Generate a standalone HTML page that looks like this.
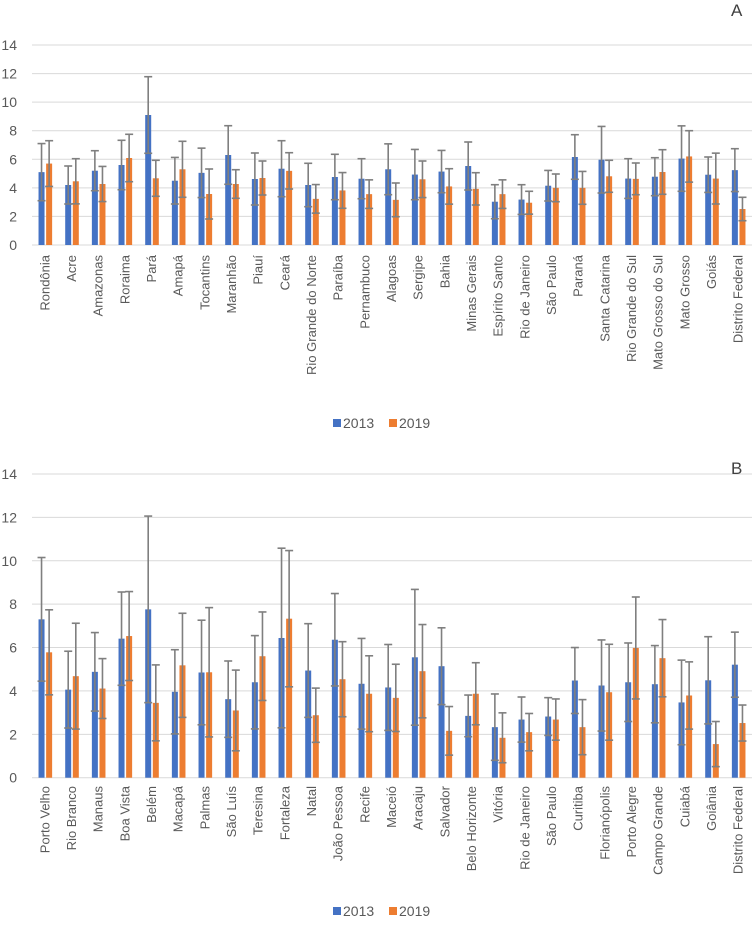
<!DOCTYPE html>
<html><head><meta charset="utf-8"><style>
body{margin:0;background:#fff;}
svg{display:block;font-family:"Liberation Sans",sans-serif;}
</style></head><body>
<svg id="chart" width="754" height="927" viewBox="0 0 754 927"></svg>
<script>
const statesA = ["Rondônia","Acre","Amazonas","Roraima","Pará","Amapá","Tocantins","Maranhão","Piauí","Ceará","Rio Grande do Norte","Paraíba","Pernambuco","Alagoas","Sergipe","Bahia","Minas Gerais","Espírito Santo","Rio de Janeiro","São Paulo","Paraná","Santa Catarina","Rio Grande do Sul","Mato Grosso do Sul","Mato Grosso","Goiás","Distrito Federal"];
const a2013 = [5.1,4.2,5.2,5.6,9.1,4.5,5.05,6.3,4.62,5.34,4.2,4.76,4.64,5.3,4.93,5.14,5.53,3.03,3.18,4.15,6.16,5.97,4.65,4.78,6.05,4.92,5.24];
const a2013err = [2.0,1.33,1.4,1.73,2.68,1.63,1.73,2.05,1.82,1.96,1.52,1.59,1.4,1.78,1.76,1.48,1.68,1.19,1.04,1.07,1.56,2.33,1.39,1.33,2.29,1.24,1.5];
const a2019 = [5.7,4.46,4.27,6.09,4.67,5.3,3.57,4.27,4.69,5.19,3.23,3.82,3.56,3.16,4.6,4.1,3.93,3.56,2.96,4.0,4.0,4.81,4.63,5.11,6.2,4.65,2.52];
const a2019err = [1.6,1.58,1.23,1.66,1.26,1.96,1.75,1.0,1.19,1.27,1.0,1.25,1.0,1.18,1.28,1.24,1.13,1.0,0.8,0.97,1.15,1.12,1.11,1.56,1.8,1.78,0.82];
const citiesB = ["Porto Velho","Rio Branco","Manaus","Boa Vista","Belém","Macapá","Palmas","São Luís","Teresina","Fortaleza","Natal","João Pessoa","Recife","Maceió","Aracaju","Salvador","Belo Horizonte","Vitória","Rio de Janeiro","São Paulo","Curitiba","Florianópolis","Porto Alegre","Campo Grande","Cuiabá","Goiânia","Distrito Federal"];
const b2013 = [7.3,4.06,4.88,6.41,7.76,3.96,4.85,3.62,4.4,6.44,4.94,6.36,4.33,4.16,5.55,5.14,2.85,2.33,2.68,2.82,4.48,4.25,4.4,4.31,3.47,4.49,5.21];
const b2013err = [2.85,1.77,1.81,2.15,4.3,1.94,2.41,1.76,2.15,4.14,2.16,2.13,2.09,1.98,3.13,1.77,0.96,1.53,1.04,0.87,1.52,2.1,1.81,1.78,1.95,2.01,1.5];
const b2019 = [5.78,4.68,4.11,6.53,3.45,5.18,4.86,3.1,5.6,7.33,2.88,4.54,3.87,3.68,4.91,2.16,3.87,1.84,2.1,2.68,2.33,3.94,5.98,5.51,3.79,1.55,2.52];
const b2019err = [1.96,2.44,1.38,2.05,1.75,2.4,2.98,1.86,2.04,3.14,1.25,1.73,1.75,1.55,2.15,1.12,1.43,1.15,0.86,0.95,1.27,2.21,2.35,1.78,1.55,1.04,0.83];
const yTicks = [0,2,4,6,8,10,12,14];
const seriesNames = ["2013","2019"];

const NS="http://www.w3.org/2000/svg";
const svg=document.getElementById('chart');
function mk(tag,attrs,parent){const e=document.createElementNS(NS,tag);for(const k in attrs)e.setAttribute(k,attrs[k]);(parent||svg).appendChild(e);return e;}

function drawChart(cfg){
  const g=mk('g',{});
  
  
  const x0=32,x1=752,pitch=(x1-x0)/cfg.cats.length;
  const yScale=v=>cfg.zeroY-v*cfg.unit;
  const xScale=i=>x0+pitch*(i+0.5);
  yTicks.forEach(t=>{
    const l=mk('line',{x1:x0,x2:x1,y1:yScale(t),y2:yScale(t),stroke:'#d9d9d9','stroke-width':1},g);
    
    
    const tx=mk('text',{x:17,y:yScale(t)+5,'text-anchor':'end','font-size':14,fill:'#595959'},g);
    tx.textContent=t;
    
    
  });
  const series=[{v:cfg.s1,e:cfg.e1,c:'#4472c4',off:-3.8},{v:cfg.s2,e:cfg.e2,c:'#ed7d31',off:3.8}];
  cfg.cats.forEach((name,i)=>{
    series.forEach((s,si)=>{
      const cx=xScale(i)+s.off,val=s.v[i],er=s.e[i];
      const r=mk('rect',{x:cx-3,y:yScale(val),width:6,height:cfg.zeroY-yScale(val),fill:s.c},g);
      
      
      const lo=Math.max(0,val-er),hi=val+er;
      const eg=mk('g',{stroke:'#7f7f7f','stroke-width':1.6},g);
      
      
      mk('line',{x1:cx,x2:cx,y1:yScale(lo),y2:yScale(hi)},eg);
      mk('line',{x1:cx-4,x2:cx+4,y1:yScale(hi),y2:yScale(hi)},eg);
      mk('line',{x1:cx-4,x2:cx+4,y1:yScale(lo),y2:yScale(lo)},eg);
    });
    const lx=xScale(i)+4,ly=cfg.labelY;
    const t=mk('text',{x:lx,y:ly,transform:`rotate(-90 ${lx} ${ly})`,'text-anchor':'end','font-size':13,fill:'#595959'},g);
    t.textContent=name;
    
    
  });
  const lg=mk('g',{},g);
  
  
  [['#4472c4',333,343],['#ed7d31',389,399]].forEach((d,k)=>{
    const sq=mk('rect',{x:d[1],y:cfg.legendY-9,width:8,height:8,fill:d[0]},lg);
    
    
    const tt=mk('text',{x:d[2],y:cfg.legendY,'font-size':14,fill:'#595959'},lg);
    tt.textContent=seriesNames[k];
    
    
  });
  const pl=mk('text',{x:731,y:cfg.letterY,'font-size':17,fill:'#404040'},g);
  pl.textContent=cfg.letter;
  
  
}
drawChart({id:'chart-a',cats:statesA,s1:a2013,e1:a2013err,s2:a2019,e2:a2019err,zeroY:245,unit:200/14,labelY:255,legendY:428,letter:'A',letterY:16});
drawChart({id:'chart-b',cats:citiesB,s1:b2013,e1:b2013err,s2:b2019,e2:b2019err,zeroY:777.7,unit:303.7/14,labelY:786,legendY:916,letter:'B',letterY:474});
</script>
</body></html>
